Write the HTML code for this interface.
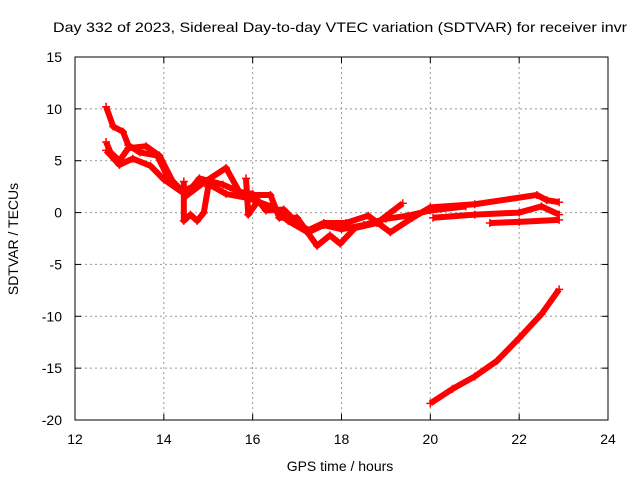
<!DOCTYPE html>
<html><head><meta charset="utf-8"><style>
body{margin:0;background:#fff}
svg{display:block;font-family:"Liberation Sans",sans-serif}
</style></head><body>
<svg id="chart" width="640" height="480">
<text x="340" y="32" font-size="14" text-anchor="middle" textLength="574" lengthAdjust="spacingAndGlyphs">Day 332 of 2023, Sidereal Day-to-day VTEC variation (SDTVAR) for receiver invr</text>
<text x="340" y="471" font-size="14" text-anchor="middle">GPS time / hours</text>
<text transform="translate(18,239) rotate(-90)" font-size="14" text-anchor="middle">SDTVAR / TECUs</text>
<g id="grid"></g><g id="marks"></g>
<rect x="75" y="57" width="533" height="363" fill="none" stroke="#000"/>
</svg>
<script>
const xTicks=[12,14,16,18,20,22,24];
const yTicks=[15,10,5,0,-5,-10,-15,-20];
const seriesMain=[[12.7,10.2],[12.86,8.3],[13.08,7.8],[13.2,6.5],[13.46,5.8],[13.85,5.5],[14.07,3.6],[14.5,1.7],[14.8,3.3],[15.33,2.7],[15.87,1.7],[16.4,1.7],[16.6,-0.5],[17.0,-0.5],[17.45,-3.2],[17.74,-2.2],[17.97,-3.0],[18.3,-1.5],[18.8,-1.0],[19.38,0.9]];
const seriesLower=[[12.7,6.8],[12.8,5.8],[13.0,5.0],[13.2,6.2],[13.6,6.4],[13.9,5.5],[14.2,3.0],[14.5,1.6],[14.9,2.9],[15.4,4.3],[15.7,2.0],[16.0,1.8],[16.3,0.2],[16.7,0.3],[17.0,-1.0],[17.3,-1.8],[17.6,-1.2],[18.0,-1.6],[18.5,-1.2],[19.0,-0.6],[19.5,-0.3],[20.0,0.2],[20.8,0.6]];
const seriesBand=[[12.7,6.0],[13.0,4.6],[13.3,5.2],[13.7,4.5],[14.0,3.2],[14.4,2.0],[14.9,3.0],[15.4,1.8],[15.9,1.4],[16.4,0.6],[16.8,-0.8],[17.2,-1.8],[17.6,-1.0],[18.1,-1.0],[18.6,-0.3],[19.1,-1.9],[19.6,-0.5],[20.0,0.5],[21.0,0.8],[22.4,1.7],[22.62,1.2],[22.9,1.0]];
const seriesReturn=[[20.06,-0.5],[21.0,-0.2],[22.0,0.0],[22.5,0.6],[22.9,-0.2]];
const seriesLowBand=[[21.34,-1.0],[22.0,-0.9],[22.9,-0.7]];
const seriesSpike1=[[14.45,3.0],[14.45,-0.8],[14.6,-0.2],[14.75,-0.8],[14.9,0.0],[15.0,2.5]];
const seriesSpike2=[[15.85,3.3],[15.9,-0.2],[16.1,1.0]];
const seriesBottom=[[20.0,-18.4],[20.5,-17.0],[21.0,-15.8],[21.5,-14.3],[22.0,-12.1],[22.5,-9.8],[22.9,-7.4]];
const allSeries=[seriesMain,seriesLower,seriesBand,seriesReturn,seriesLowBand,seriesSpike1,seriesSpike2,seriesBottom];
const X0=75,X1=608,Y0=420,Y1=57;
const xs=h=>X0+(h-12)/(24-12)*(X1-X0);
const ys=v=>Y0-(v+20)/35*(Y0-Y1);
const NS="http://www.w3.org/2000/svg";
const grid=document.getElementById('grid'),marks=document.getElementById('marks');
function mk(t,a,p){const e=document.createElementNS(NS,t);for(const k in a)e.setAttribute(k,a[k]);p.appendChild(e);return e;}
xTicks.forEach(t=>{const x=xs(t);
 if(t>12&&t<24){const g=mk('line',{x1:x,x2:x,y1:Y1,y2:Y0,stroke:'#999','stroke-dasharray':'2,3'},grid);
 
 }
 mk('line',{x1:x,x2:x,y1:Y0,y2:Y0-6,stroke:'#000'},grid);mk('line',{x1:x,x2:x,y1:Y1,y2:Y1+6,stroke:'#000'},grid);
 const l=mk('text',{x:x,y:Y0+24,'font-size':14,'text-anchor':'middle'},grid);l.textContent=t;
 
 });
yTicks.forEach(t=>{const y=ys(t);
 if(t<15&&t>-20){const g=mk('line',{x1:X0,x2:X1,y1:y,y2:y,stroke:'#999','stroke-dasharray':'2,3'},grid);
 
 }
 mk('line',{x1:X0,x2:X0+6,y1:y,y2:y,stroke:'#000'},grid);mk('line',{x1:X1,x2:X1-6,y1:y,y2:y,stroke:'#000'},grid);
 const l=mk('text',{x:X0-13,y:y+5,'font-size':14,'text-anchor':'end'},grid);l.textContent=t;
 
 });
allSeries.forEach(s=>{
 const pl=mk('polyline',{points:s.map(p=>xs(p[0])+','+ys(p[1])).join(' '),fill:'none',stroke:'#f00','stroke-width':6,'stroke-linejoin':'round'},marks);
 
 
 s.forEach(p=>{const x=xs(p[0]),y=ys(p[1]);
  const m=mk('path',{d:`M${x-4},${y}H${x+4}M${x},${y-4}V${y+4}`,stroke:'#f00','stroke-width':1.5},marks);
  
  });
});
</script>
</body></html>
